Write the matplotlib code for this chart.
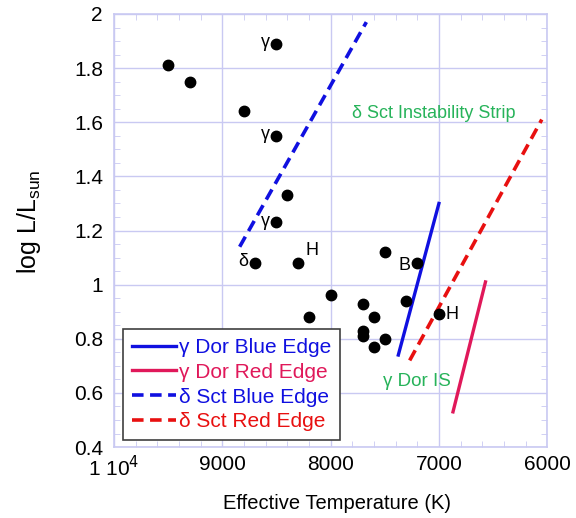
import matplotlib.pyplot as plt
from matplotlib.ticker import MultipleLocator

plt.rcParams['font.family'] = ['Liberation Sans', 'DejaVu Sans']

# stars (Teff, log L/Lsun)
star_teff = [9500, 9300, 8800, 8500, 8500, 8400, 8500, 8700, 8300,
             8000, 8200, 7500, 7200, 7700, 7600, 7700, 7700, 7500, 7600, 7300, 7000]
star_logl = [1.81, 1.75, 1.64, 1.89, 1.55, 1.33, 1.23, 1.08, 1.08,
             0.96, 0.88, 1.12, 1.08, 0.93, 0.88, 0.83, 0.81, 0.80, 0.77, 0.94, 0.89]
star_tags = ['', '', '', 'γ', 'γ', '', 'γ', 'δ', 'H',
             '', '', '', 'B', '', '', '', '', '', '', '', 'H']

# instability strip edges: (Teff start, Teff end), (logL start, logL end)
gdor_blue_teff = [7375, 7000]
gdor_blue_logl = [0.74, 1.30]
gdor_red_teff = [6870, 6570]
gdor_red_logl = [0.53, 1.01]
dsct_blue_teff = [8840, 7670]
dsct_blue_logl = [1.14, 1.97]
dsct_red_teff = [7270, 6050]
dsct_red_logl = [0.72, 1.61]

xticks = [10000, 9000, 8000, 7000, 6000]
xtick_labels = ['1 10$^4$', '9000', '8000', '7000', '6000']
yticks = [0.4, 0.6, 0.8, 1.0, 1.2, 1.4, 1.6, 1.8, 2.0]
ytick_labels = ['0.4', '0.6', '0.8', '1', '1.2', '1.4', '1.6', '1.8', '2']

fig = plt.figure(figsize=(5.76, 5.18), dpi=100)
ax = fig.add_axes([0.198, 0.137, 0.752, 0.836])

grid_col = '#c9c9f2'
green = '#27b35a'

ax.plot(gdor_blue_teff, gdor_blue_logl, color='#1010e0', lw=2.4, label='γ Dor Blue Edge')
ax.plot(gdor_red_teff, gdor_red_logl, color='#e0185a', lw=2.4, label='γ Dor Red Edge')
ax.plot(dsct_blue_teff, dsct_blue_logl, color='#1010e0', lw=2.6, ls=(0, (3.2, 1.8)),
        label='δ Sct Blue Edge')
ax.plot(dsct_red_teff, dsct_red_logl, color='#e81010', lw=2.6, ls=(0, (3.2, 1.8)),
        label='δ Sct Red Edge')

ax.plot(star_teff, star_logl, 'o', color='black', ms=7.5, zorder=5)

for t, l, tag in zip(star_teff, star_logl, star_tags):
    if tag in ('γ', 'δ'):
        ax.annotate(tag, (t, l), xytext=(-5, 1), textcoords='offset points',
                    ha='right', va='center', fontsize=13)
    elif tag == 'B':
        ax.annotate(tag, (t, l), xytext=(-5, -2), textcoords='offset points',
                    ha='right', va='center', fontsize=13)
    elif tag == 'H':
        dy = 9 if l > 1 else 0
        ax.annotate(tag, (t, l), xytext=(5, dy), textcoords='offset points',
                    ha='left', va='center', fontsize=13)

ax.text(7800, 1.634, 'δ Sct Instability Strip', color=green, fontsize=13,
        ha='left', va='center')
ax.text(7515, 0.642, 'γ Dor IS', color=green, fontsize=13.5, ha='left', va='center')

ax.set_xlim(10000, 6000)
ax.set_ylim(0.4, 2.0)
ax.set_xticks(xticks)
ax.set_xticklabels(xtick_labels)
ax.set_yticks(yticks)
ax.set_yticklabels(ytick_labels)
ax.xaxis.set_minor_locator(MultipleLocator(200))
ax.yaxis.set_minor_locator(MultipleLocator(0.05))
ax.tick_params(which='both', direction='in', top=True, right=True, color=grid_col,
               labelsize=15)
ax.tick_params(which='major', length=0)
ax.tick_params(axis='x', which='major', pad=6)
ax.tick_params(axis='y', which='major', pad=8)
ax.tick_params(which='minor', length=4)
ax.grid(True, which='major', color=grid_col, lw=1)
for s in ax.spines.values():
    s.set_color(grid_col)
    s.set_linewidth(1.2)

ax.set_xlabel('Effective Temperature (K)', fontsize=14.5)
ax.xaxis.set_label_coords(0.515, -0.108)
ax.set_ylabel('log L/L$_{\\mathregular{sun}}$', fontsize=18)
ax.yaxis.set_label_coords(-0.165, 0.52)

leg = ax.legend(loc='lower left', bbox_to_anchor=(0.021, 0.016), borderaxespad=0,
                fontsize=15, handlelength=2.1, handletextpad=0.15, borderpad=0.42,
                labelspacing=0.28, fancybox=False, framealpha=1)
leg.get_frame().set_edgecolor('#404040')
leg.get_frame().set_linewidth(1.2)
for txt, line in zip(leg.get_texts(), leg.get_lines()):
    txt.set_color(line.get_color())

fig.savefig('out.png', dpi=100)
